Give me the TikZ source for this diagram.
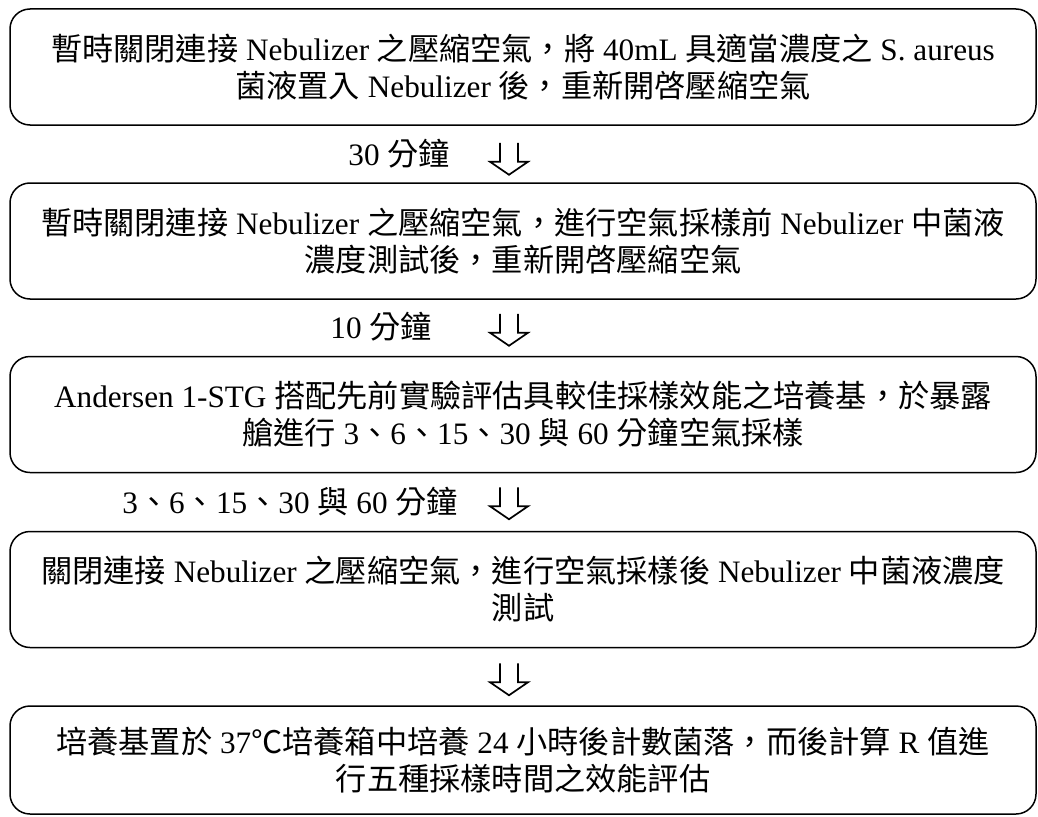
\documentclass[tikz,border=0pt]{standalone}
\usepackage{fontspec}
\setmainfont{Liberation Serif}
\newfontfamily\cjkfam{Noto Sans CJK TC}
\newcommand\zh[1]{{\cjkfam #1}}
\usetikzlibrary{calc}
\tikzset{
  stepbox/.style={draw, line width=1.5pt, rounded corners=20pt, minimum width=1026pt,
    minimum height=116pt, align=center, inner sep=0pt,
    font=\fontsize{31.2}{37}\selectfont},
  steplabel/.style={anchor=east, inner sep=0pt, font=\fontsize{31.2}{37}\selectfont},
  hollowarrow/.style={draw, line width=1.7pt, line join=miter}
}
\newcommand\downarrowat[1]{%
  \draw[hollowarrow] ($(#1)+(-9,0)$) -- ($(#1)+(-9,-19)$) -- ($(#1)+(-19,-19)$)
    -- ($(#1)+(0,-32)$) -- ($(#1)+(19,-19)$) -- ($(#1)+(9,-19)$) -- ($(#1)+(9,0)$);}
\begin{document}
\begin{tikzpicture}[x=1pt,y=1pt]
\useasboundingbox (0,0) rectangle (1038,-816);
\node[stepbox] (b1) at (523,-67) {\zh{暫時關閉連接} Nebulizer \zh{之壓縮空氣，將} 40mL \zh{具適當濃度之} S. aureus\\
\zh{菌液置入} Nebulizer \zh{後，重新開啓壓縮空氣}};
\node[stepbox] (b2) at (523,-241) {\zh{暫時關閉連接} Nebulizer \zh{之壓縮空氣，進行空氣採樣前} Nebulizer \zh{中菌液}\\
\zh{濃度測試後，重新開啓壓縮空氣}};
\node[stepbox] (b3) at (523,-414.5) {Andersen 1-STG \zh{搭配先前實驗評估具較佳採樣效能之培養基，於暴露}\\
\zh{艙進行} 3\zh{、}6\zh{、}15\zh{、}30 \zh{與} 60 \zh{分鐘空氣採樣}};
\node[stepbox] (b4) at (523,-589.5) {\zh{關閉連接} Nebulizer \zh{之壓縮空氣，進行空氣採樣後} Nebulizer \zh{中菌液濃度}\\
\zh{測試}};
\node[stepbox, minimum height=108pt] (b5) at (523,-760) {\zh{培養基置於} 37\zh{℃培養箱中培養} 24 \zh{小時後計數菌落，而後計算} R \zh{值進}\\
\zh{行五種採樣時間之效能評估}};
\path (b1.south) ++(-14,-17) coordinate (a1);
\path (b2.south) ++(-14,-14) coordinate (a2);
\path (b3.south) ++(-14,-14) coordinate (a3);
\path (b4.south) ++(-14,-15) coordinate (a4);
\downarrowat{a1}
\downarrowat{a2}
\downarrowat{a3}
\downarrowat{a4}
\node[steplabel] (l1) at (450,-154) {30 \zh{分鐘}};
\node[steplabel] (l2) at (432,-327) {10 \zh{分鐘}};
\node[steplabel] (l3) at (458,-502) {3\zh{、}6\zh{、}15\zh{、}30 \zh{與} 60 \zh{分鐘}};
\end{tikzpicture}
\end{document}
